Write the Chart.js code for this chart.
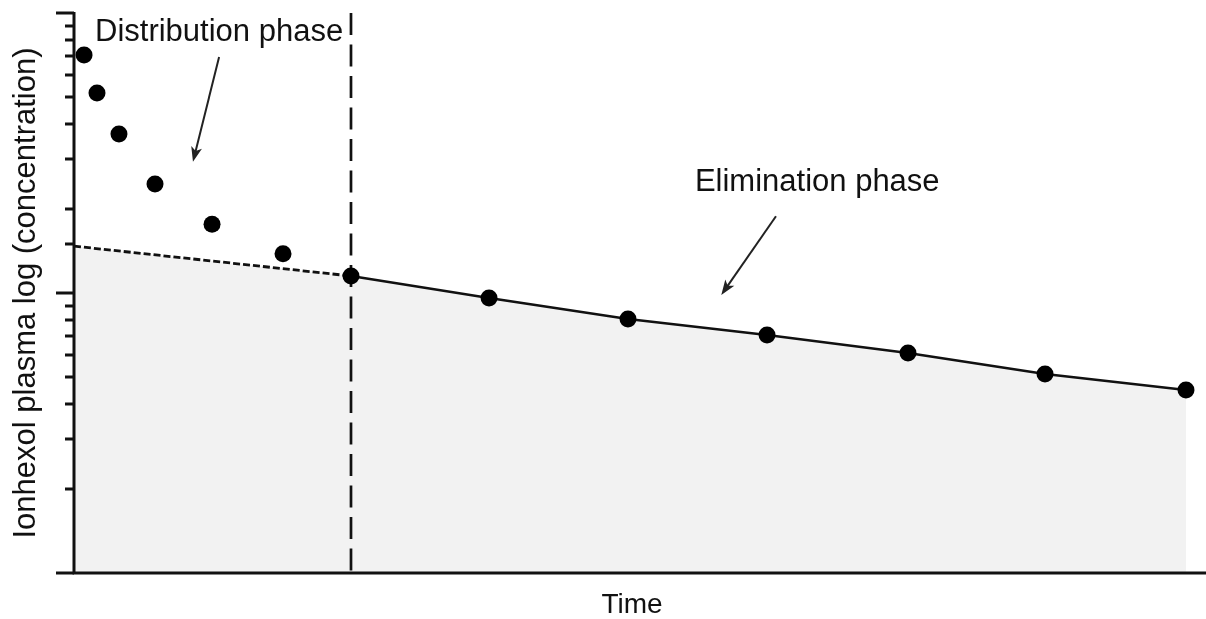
<!DOCTYPE html>
<html>
<head>
<meta charset="utf-8">
<script src="https://cdn.jsdelivr.net/npm/chart.js@4"></script>
<style>
  html, body { margin: 0; padding: 0; background: #fff; }
  #wrap { width: 1206px; height: 619px; }
</style>
</head>
<body>
<div id="wrap"><canvas id="pkChart"></canvas></div>
<script>
// distribution phase samples (early, fast decline)
const distTime = [0.9, 2.06, 4.03, 7.26, 12.37, 18.73];
const distConc = [70.8, 51.8, 37.0, 24.5, 17.6, 13.8];

// elimination phase samples (log-linear)
const elimTime = [24.82, 37.19, 49.64, 62.10, 74.73, 87.01, 99.64];
const elimConc = [11.5, 9.6, 8.07, 7.08, 6.1, 5.14, 4.5];

// back-extrapolated elimination line to time zero
const backTime = [0, 24.82];
const backConc = [14.7, 11.5];

// boundary between phases
const phaseSplit = 24.82;

const yRange = [1, 100];
const xRange = [0, 100];

const FONT = '"Liberation Sans", Arial, Helvetica, sans-serif';

const toXY = (xs, ys) => xs.map((x, i) => ({ x: x, y: ys[i] }));

// annotation labels with arrows, in data coordinates
const notes = [
  { text: 'Distribution phase', x: 13.0, y: 79.6, from: [13.0, 69.6], to: [10.66, 29.4] },
  { text: 'Elimination phase', x: 66.6, y: 23.2, from: [62.9, 18.8], to: [58.0, 9.84] },
];

// axis lines + log ticks (major long, minor short), all from the scales
const axisTicks = {
  id: 'axisTicks',
  afterDraw(chart) {
    const { ctx, scales: { x, y }, chartArea } = chart;
    const left = Math.round(chartArea.left);
    const base = Math.round(y.getPixelForValue(yRange[0]));
    const top = Math.round(y.getPixelForValue(yRange[1]));
    ctx.save();
    ctx.strokeStyle = '#111';
    ctx.lineWidth = 3;
    ctx.lineCap = 'butt';
    ctx.beginPath();
    ctx.moveTo(left, top - 1);
    ctx.lineTo(left, base + 1.5);
    ctx.moveTo(left, base);
    ctx.lineTo(chart.width, base);
    ctx.stroke();
    y.ticks.forEach(t => {
      const py = Math.round(y.getPixelForValue(t.value));
      const lg = Math.log10(t.value);
      const major = Math.abs(lg - Math.round(lg)) < 1e-9;
      const len = major ? 18 : 9;
      ctx.beginPath();
      ctx.moveTo(left - len, py);
      ctx.lineTo(left, py);
      ctx.stroke();
    });
    ctx.restore();
  }
};

const phaseNotes = {
  id: 'phaseNotes',
  afterDraw(chart) {
    const { ctx, scales: { x, y } } = chart;
    ctx.save();
    ctx.font = '31px ' + FONT;
    ctx.textAlign = 'center';
    ctx.textBaseline = 'alphabetic';
    notes.forEach(n => {
      ctx.fillStyle = '#111';
      ctx.fillText(n.text, x.getPixelForValue(n.x), y.getPixelForValue(n.y));
      const x0 = x.getPixelForValue(n.from[0]), y0 = y.getPixelForValue(n.from[1]);
      const x1 = x.getPixelForValue(n.to[0]), y1 = y.getPixelForValue(n.to[1]);
      const ang = Math.atan2(y1 - y0, x1 - x0);
      const head = 15, half = 5.5;
      const c = Math.cos(ang), s = Math.sin(ang);
      ctx.strokeStyle = '#222';
      ctx.lineWidth = 2;
      ctx.beginPath();
      ctx.moveTo(x0, y0);
      ctx.lineTo(x1 - c * head * 0.7, y1 - s * head * 0.7);
      ctx.stroke();
      ctx.fillStyle = '#222';
      ctx.beginPath();
      ctx.moveTo(x1, y1);
      ctx.lineTo(x1 - head * c + half * s, y1 - head * s - half * c);
      ctx.lineTo(x1 - head * c * 0.75, y1 - head * s * 0.75);
      ctx.lineTo(x1 - head * c - half * s, y1 - head * s + half * c);
      ctx.closePath();
      ctx.fill();
    });
    ctx.restore();
  }
};

new Chart(document.getElementById('pkChart'), {
  type: 'line',
  data: {
    datasets: [
      {
        // all measured samples
        label: 'samples',
        data: toXY(distTime, distConc).concat(toXY(elimTime, elimConc)),
        showLine: false,
        pointRadius: 8.5,
        pointBackgroundColor: '#000',
        pointBorderWidth: 0,
        clip: false,
        order: 0,
      },
      {
        label: 'elimination',
        data: toXY(elimTime, elimConc),
        borderColor: '#111',
        borderWidth: 2.5,
        pointRadius: 0,
        fill: false,
        order: 1,
      },
      {
        label: 'back extrapolation',
        data: toXY(backTime, backConc),
        borderColor: '#111',
        borderWidth: 2.8,
        borderDash: [7, 3],
        pointRadius: 0,
        fill: false,
        order: 1,
      },
      {
        label: 'phase split',
        data: [{ x: phaseSplit, y: yRange[1] }, { x: phaseSplit, y: yRange[0] }],
        borderColor: '#111',
        borderWidth: 2.7,
        borderDash: [22, 9.5],
        pointRadius: 0,
        fill: false,
        order: 2,
      },
      {
        // area under the log-linear curve
        label: 'area',
        data: toXY(backTime.slice(0, 1), backConc.slice(0, 1)).concat(toXY(elimTime, elimConc)),
        borderWidth: 0,
        borderColor: 'rgba(0,0,0,0)',
        backgroundColor: '#f2f2f2',
        pointRadius: 0,
        fill: 'start',
        order: 3,
      },
    ]
  },
  options: {
    responsive: true,
    maintainAspectRatio: false,
    animation: false,
    layout: { padding: { top: 13, right: 16, left: 0, bottom: 0 } },
    plugins: {
      legend: { display: false },
      tooltip: { enabled: false },
    },
    scales: {
      x: {
        type: 'linear',
        min: xRange[0],
        max: xRange[1],
        ticks: { display: false },
        grid: { display: false },
        border: { display: false },
        title: {
          display: true,
          text: 'Time',
          color: '#111',
          font: { family: FONT, size: 28, lineHeight: 1 },
          padding: { top: 0, bottom: 0 },
        },
        afterFit: s => { s.height = 46; },
      },
      y: {
        type: 'logarithmic',
        min: yRange[0],
        max: yRange[1],
        ticks: { display: false },
        grid: { display: false },
        border: { display: false },
        title: {
          display: true,
          text: 'Ionhexol plasma log (concentration)',
          color: '#111',
          font: { family: FONT, size: 31, lineHeight: 1 },
          padding: { top: 11, bottom: 0 },
        },
        afterFit: s => { s.width = 74; },
      },
    },
  },
  plugins: [axisTicks, phaseNotes],
});
</script>
</body>
</html>
